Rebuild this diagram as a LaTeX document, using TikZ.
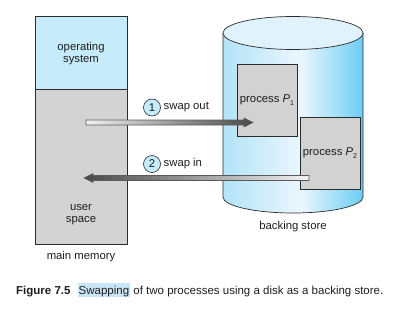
\documentclass[tikz,border=0pt]{standalone}
\usepackage{fontspec}
\setmainfont{Liberation Sans}
\usetikzlibrary{calc}

\definecolor{osblue}{HTML}{C6EBFA}
\definecolor{usergray}{HTML}{D3D3D3}
\definecolor{procgray}{HTML}{D2D2D2}
\definecolor{edge}{HTML}{2B2B2B}
\definecolor{cylL}{HTML}{B3E3F8}
\definecolor{cylM}{HTML}{EAF7FD}
\definecolor{cylR}{HTML}{6CCDF3}
\definecolor{cyltop}{HTML}{E0F3FC}
\definecolor{hl}{HTML}{C9E5F8}
\definecolor{inktext}{HTML}{1E1E1E}
\definecolor{arrowdark}{HTML}{484848}
\definecolor{arrowlight}{HTML}{F2F2F2}
\definecolor{arrowedge}{HTML}{5A5A5A}

% horizontal gradient of the disk body (light left, pale middle, deep blue right)
\pgfdeclarehorizontalshading{disk}{100bp}{color(0bp)=(cylL); color(25bp)=(cylL); color(53bp)=(cylM); color(75bp)=(cylR); color(100bp)=(cylR)}

\begin{document}
\begin{tikzpicture}[x=1pt, y=-1pt,
  every node/.style={font=\fontsize{11.3}{12}\selectfont, text=inktext},
  box/.style={draw=edge, line width=0.8pt},
  label/.style={inner sep=0pt, align=center},
  captionfont/.style={font=\fontsize{11.5}{13}\selectfont},
  procbox/.style={box, fill=procgray, minimum width=60pt, minimum height=72pt, inner sep=0pt},
  numcircle/.style={circle, draw=edge, fill=osblue, line width=0.6pt, minimum size=17pt, inner sep=0pt},
  fatarrow/.style={draw=arrowedge, line width=0.6pt, line join=miter}]

\useasboundingbox (0,0) rectangle (403,329);

% main memory
\draw[box, fill=osblue] (35,16) rectangle (127,89);
\draw[box, fill=usergray] (35,89) rectangle (127,244);
\node[label] (os) at (81,54) {operating\\system};
\node[label] (us) at (81,215) {user\\space};
\node[label] (mm) at (81,257) {main memory};

% backing store cylinder
\shade[shading=disk] (223,33) -- (223,197)
  arc[start angle=180, end angle=360, x radius=70pt, y radius=16pt] -- (363,33) -- cycle;
\draw[edge, line width=0.7pt] (223,33) -- (223,197)
  arc[start angle=180, end angle=360, x radius=70pt, y radius=16pt] -- (363,33);
\draw[edge, line width=0.7pt, fill=cyltop] (293,33) ellipse[x radius=70pt, y radius=16.5pt];
\node[label] (bs) at (293,227) {backing store};

% processes on disk
\node[procbox] (p1) at (267,100) {process {\itshape P}\raisebox{-3pt}{\scriptsize 1}};
\node[procbox] (p2) at (330,153) {process {\itshape P}\raisebox{-3pt}{\scriptsize 2}};

% swap out: user space -> process P1
\coordinate (outTail) at (86,122.5);
\coordinate (outTip) at (253,122.5);
\shadedraw[fatarrow, left color=arrowlight, right color=arrowdark]
  ($(outTail)+(0,-2.5)$) -- ($(outTip)+(-9,-2.5)$) -- ($(outTip)+(-9,-4.5)$) -- (outTip)
  -- ($(outTip)+(-9,4.5)$) -- ($(outTip)+(-9,2.5)$) -- ($(outTail)+(0,2.5)$) -- cycle;
\node[numcircle] (n1) at (152,107.5) {1};
\node[label, anchor=west] (swout) at (163.5,107.5) {swap out};

% swap in: process P2 -> user space
\coordinate (inTail) at (309,178);
\coordinate (inTip) at (84,178);
\shadedraw[fatarrow, left color=arrowdark, right color=arrowlight]
  ($(inTail)+(0,-2.5)$) -- ($(inTip)+(9,-2.5)$) -- ($(inTip)+(9,-4.5)$) -- (inTip)
  -- ($(inTip)+(9,4.5)$) -- ($(inTip)+(9,2.5)$) -- ($(inTail)+(0,2.5)$) -- cycle;
\node[numcircle] (n2) at (152,164) {2};
\node[label, anchor=west] (swin) at (163.5,164) {swap in};

% caption
\node[label, captionfont, anchor=base west] (figno) at (16,294) {\textbf{Figure 7.5}};
\node[label, captionfont, anchor=base west] (captxt) at (77.5,294) {{\setlength{\fboxsep}{0pt}\colorbox{hl}{\rule[-3pt]{0pt}{14pt}\hspace{1pt}Swapping\hspace{1pt}}} of two processes using a disk as a backing store.};
\end{tikzpicture}
\end{document}
